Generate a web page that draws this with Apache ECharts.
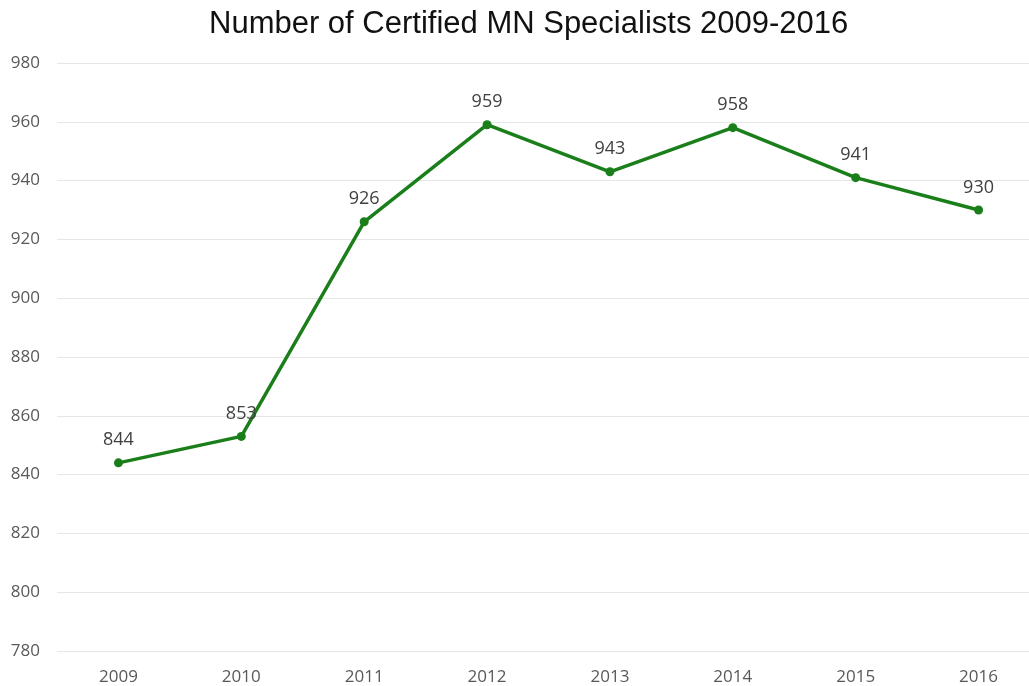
<!DOCTYPE html>
<html>
<head>
<meta charset="utf-8">
<script src="https://cdn.jsdelivr.net/npm/echarts@6/dist/echarts.min.js"></script>
<style>
  html, body { margin: 0; padding: 0; background: #fff; overflow: hidden; }
  #chart { width: 1040px; height: 686px; }
</style>
</head>
<body>
<div id="chart"></div>
<script>
// data
const years = ['2009', '2010', '2011', '2012', '2013', '2014', '2015', '2016'];
const specialists = [844, 853, 926, 959, 943, 958, 941, 930];

// plot area runs a little past the right edge of the picture, as in the original
const chart = echarts.init(document.getElementById('chart'));
const option = {
  animation: false,
  title: {
    text: 'Number of Certified MN Specialists 2009-2016',
    left: 204,
    top: 4,
    textStyle: { fontFamily: 'Liberation Sans, Arial', fontSize: 31, fontWeight: 'normal', color: '#111' }
  },
  grid: { left: 57, right: 0, top: 63, bottom: 35 },
  xAxis: {
    type: 'category',
    data: years,
    boundaryGap: true,
    axisLine: { show: false },
    axisTick: { show: false },
    axisLabel: { color: '#595959', fontSize: 17, fontFamily: 'Open Sans, Noto Sans', margin: 18 }
  },
  yAxis: {
    type: 'value',
    min: 780,
    max: 980,
    interval: 20,
    axisLine: { show: false },
    axisTick: { show: false },
    axisLabel: { color: '#595959', fontSize: 17, fontFamily: 'Open Sans, Noto Sans', margin: 17 },
    splitLine: { lineStyle: { color: '#e6e6e6', width: 1 } }
  },
  series: [{
    name: 'Specialists',
    type: 'line',
    data: specialists,
    symbol: 'circle',
    symbolSize: 9,
    lineStyle: { color: '#1a7f1a', width: 3.5 },
    itemStyle: { color: '#1a7f1a' },
    label: {
      show: true,
      position: 'top',
      distance: 9,
      color: '#404040',
      fontSize: 18,
      fontFamily: 'Open Sans, Noto Sans'
    }
  }]
};
chart.setOption(option);
</script>
</body>
</html>
